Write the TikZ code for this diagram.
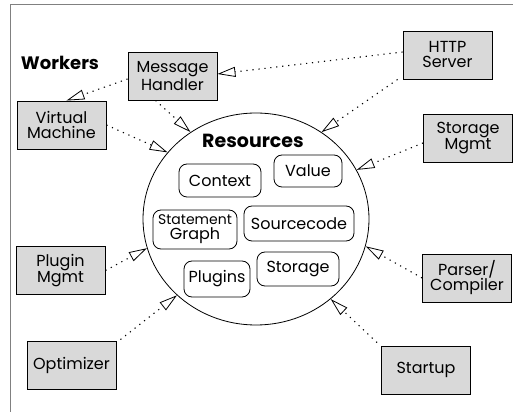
\documentclass[tikz,border=0pt]{standalone}
\usepackage{fontspec}
\setmainfont{Poppins}
\usetikzlibrary{arrows.meta,shapes.geometric}
\begin{document}
\begin{tikzpicture}[x=1pt,y=1pt,
  worker/.style={draw, fill=gray!30, line width=0.9pt, minimum width=89pt,
    minimum height=48pt, inner sep=0pt, align=center,
    font=\fontsize{16}{15}\selectfont},
  item/.style={draw, fill=white, rounded corners=8pt, line width=0.8pt,
    inner sep=0pt, align=center, font=\fontsize{16}{15}\selectfont},
  uses/.style={dash pattern=on 1.2pt off 4.8pt, line width=1.1pt,
    -{Triangle[open, fill=white, length=18pt, width=10pt, line width=0.8pt]}},
  heading/.style={font=\bfseries\fontsize{18}{18}\selectfont}
]
\useasboundingbox (0,0) rectangle (513,412);

% frame (top and left edges)
\draw[gray, line width=1pt] (513,407) -- (10,407) -- (10,0);

% resource pool
\node[draw, ellipse, line width=0.8pt, minimum width=226pt, minimum height=212pt,
  inner sep=0pt] (res) at (256,193) {};
\node[heading, font=\bfseries\fontsize{19}{19}\selectfont] (restitle) at (253,271) {Resources};
\node[heading] (worktitle) at (60,349) {Workers};

\node[item, minimum width=82pt, minimum height=33pt] (ctx) at (220,231.5) {Context};
\node[item, minimum width=68pt, minimum height=32pt] (val) at (308,241) {Value};
\node[item, minimum width=84pt, minimum height=39pt] (sg) at (195,182.5)
  {\fontsize{14}{13}\selectfont Statement\\\fontsize{16}{15}\selectfont Graph};
\node[item, minimum width=110pt, minimum height=35pt] (src) at (299,188.5) {Sourcecode};
\node[item, minimum width=66pt, minimum height=36pt] (plg) at (217,133) {Plugins};
\node[item, minimum width=82pt, minimum height=34pt] (sto) at (298,143) {Storage};

% workers
\node[worker] (mh)   at (172.5,336) {Message\\Handler};
\node[worker] (vm)   at (61.5,287)  {Virtual\\Machine};
\node[worker] (http) at (447.5,357) {HTTP\\Server};
\node[worker] (sm)   at (468,274)   {Storage\\Mgmt};
\node[worker] (pm)   at (60.5,141.5) {Plugin\\Mgmt};
\node[worker] (opt)  at (71.5,47)   {Optimizer};
\node[worker] (pc)   at (467,134)   {Parser/\\Compiler};
\node[worker] (st)   at (426,42)    {Startup};

% usage relations
\draw[uses] ([yshift=3pt]http.west) -- ([yshift=2pt]mh.east);
\draw[uses] ([yshift=-3pt]mh.west) -- ([xshift=5pt]vm.north);
\draw[uses] ([xshift=-17pt]mh.south) -- (res.127);
\draw[uses] (vm.east) -- (res.143);
\draw[uses] ([xshift=-5pt]http.south west) -- (res.53);
\draw[uses] ([yshift=-5pt]sm.west) -- (res.26);
\draw[uses] (pm.east) -- (res.195);
\draw[uses] ([xshift=4pt,yshift=1pt]opt.north east) -- (res.224);
\draw[uses] (pc.west) -- (res.346);
\draw[uses] ([xshift=-4pt,yshift=3pt]st.north west) -- (res.313);
\end{tikzpicture}
\end{document}
